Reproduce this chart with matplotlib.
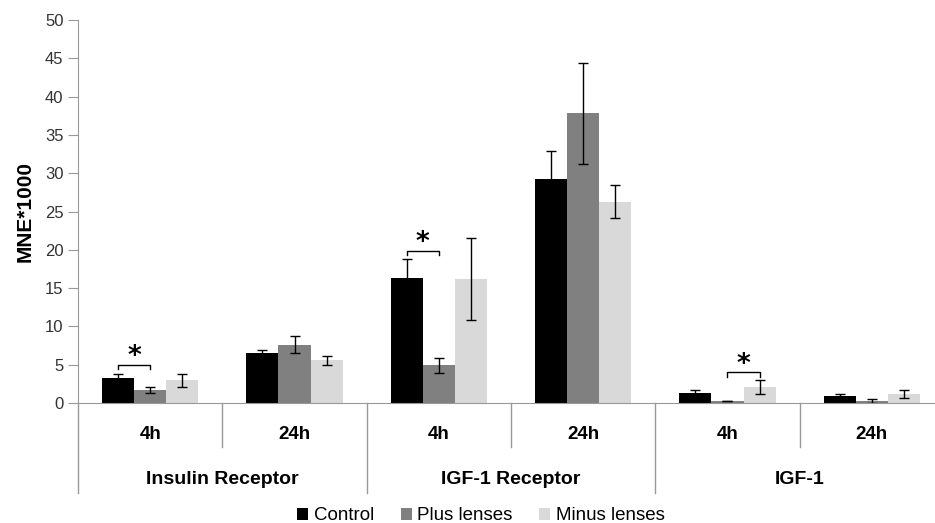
import matplotlib.pyplot as plt
import numpy as np

plt.rcParams['font.family'] = ['Liberation Sans', 'DejaVu Sans']

groups = ['Insulin Receptor', 'IGF-1 Receptor', 'IGF-1']
times = ['4h', '24h']
series = ['Control', 'Plus lenses', 'Minus lenses']
colors = ['#000000', '#808080', '#d9d9d9']

control = [3.2, 6.5, 16.3, 29.2, 1.25, 0.85]
control_err = [0.55, 0.4, 2.5, 3.75, 0.5, 0.3]
plus = [1.7, 7.6, 4.9, 37.8, 0.25, 0.25]
plus_err = [0.35, 1.1, 0.95, 6.6, 0.05, 0.25]
minus = [2.95, 5.6, 16.2, 26.3, 2.1, 1.15]
minus_err = [0.8, 0.6, 5.4, 2.2, 0.9, 0.5]

# significance: (category, bar a, bar b, bracket height)
sig = [(0, 0, 1, 5.0), (2, 0, 1, 19.9), (4, 1, 2, 4.0)]

values = [control, plus, minus]
errors = [control_err, plus_err, minus_err]

fig = plt.figure(figsize=(9.35, 5.23), dpi=100)
ax = fig.add_axes([78 / 935, 120 / 523, 866 / 935, 383 / 523])

width = 0.222
x = np.arange(6) + 0.5
for k in range(3):
    ax.bar(x + (k - 1) * width, values[k], width, color=colors[k], label=series[k],
           yerr=errors[k], capsize=3.5, error_kw=dict(ecolor='black', elinewidth=1, capthick=1))

for cat, a, b, h in sig:
    xa = x[cat] + (a - 1) * width
    xb = x[cat] + (b - 1) * width
    ax.plot([xa, xa, xb, xb], [h - 0.6, h, h, h - 0.6], color='black', lw=1)
    ax.text((xa + xb) / 2, h + 1.0, '*', ha='center', va='center', fontsize=19,
            fontweight='bold', family='DejaVu Sans')

ax.set_xlim(0, 6)
ax.set_ylim(0, 50)
ax.set_yticks(np.arange(0, 51, 5))
ax.set_xticks([])
ax.tick_params(axis='y', length=7, color='#999999', labelsize=12, labelcolor='#333333')
ax.set_ylabel('MNE*1000', fontsize=15, fontweight='bold', labelpad=7)
for s in ['top', 'right']:
    ax.spines[s].set_visible(False)
ax.spines['left'].set_color('#999999')
ax.spines['bottom'].set_color('#999999')

trans = ax.get_xaxis_transform()
for i in range(6):
    ax.text(i + 0.5, -0.083, times[i % 2], transform=trans, ha='center', va='center',
            fontsize=13.5, fontweight='bold')
for i in range(7):
    low = -0.235 if i % 2 == 0 else -0.115
    ax.plot([i, i], [0, low], transform=trans, color='#999999', lw=1, clip_on=False)
for g in range(3):
    ax.text(2 * g + 1, -0.199, groups[g], transform=trans, ha='center', va='center',
            fontsize=14, fontweight='bold')

fig.legend(loc='lower center', bbox_to_anchor=(481 / 935, -0.035), ncol=3, frameon=False,
           fontsize=13.5, handlelength=0.6, handleheight=0.6, handletextpad=0.3, columnspacing=1.4)

fig.savefig('out.png', dpi=100)
